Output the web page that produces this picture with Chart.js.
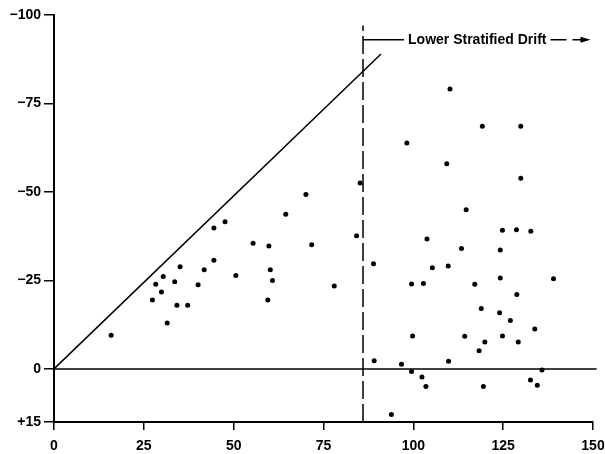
<!DOCTYPE html>
<html>
<head>
<meta charset="utf-8">
<script src="https://cdn.jsdelivr.net/npm/chart.js@4.4.0/dist/chart.umd.min.js"></script>
<style>
  html, body { margin: 0; padding: 0; background: #fff; }
</style>
</head>
<body>
<canvas id="chart" width="605" height="454"></canvas>
<script>
// scatter values
const xValues = [
  15.9, 27.4, 28.3, 29.9, 30.4, 31.5, 33.6, 34.2, 35.1, 37.2,
  40.1, 41.8, 44.5, 44.5, 47.6, 50.6, 55.4, 59.5, 59.8, 60.2,
  60.8, 64.5, 70.1, 71.7, 78.0, 84.2, 85.2, 88.9, 89.1, 93.9,
  96.7, 98.2, 99.5, 99.5, 99.8, 102.4, 102.8, 103.5, 103.8, 105.3,
  109.3, 109.7, 109.8, 110.2, 113.4, 114.3, 114.7, 117.1, 118.3, 118.9,
  119.2, 119.5, 119.9, 124.0, 124.2, 124.2, 124.8, 124.8, 127.0, 128.7,
  128.8, 129.2, 129.9, 129.9, 132.6, 132.7, 133.8, 134.5, 135.8, 139.0
];
const yValues = [
  -9.5, -19.5, -23.9, -21.7, -26.1, -13.0, -24.6, -18.0, -28.9, -18.0,
  -23.8, -28.0, -30.7, -39.8, -41.6, -26.4, -35.5, -19.5, -34.7, -28.0,
  -25.0, -43.7, -49.3, -35.1, -23.4, -37.6, -52.5, -29.7, -2.3, 12.9,
  -1.3, -63.8, -24.0, 0.7, -9.3, 2.3, -24.1, 5.0, -36.7, -28.6,
  -58.0, -29.1, -2.2, -79.1, -34.0, -9.2, -45.0, -23.9, -5.1, -17.1,
  -68.6, 5.0, -7.6, -15.9, -33.6, -25.7, -39.2, -9.3, -13.7, -39.3,
  -21.0, -7.6, -68.6, -53.9, 3.1, -38.9, -11.3, 4.6, 0.3, -25.5
];

const xTicks = [0, 25, 50, 75, 100, 125, 150];
const yTicks = [-100, -75, -50, -25, 0, 15];
const yTickLabels = ['\u2212100', '\u221275', '\u221250', '\u221225', '0', '+15'];

// reference lines
const trendX = [0, 91];
const trendY = [0, -89];
const zeroX = [0, 151];
const driftX = 86;
const driftTop = -97;
const driftLabelY = -93;
const driftLabel = 'Lower Stratified Drift';

const FONT = '"Liberation Sans", Arial, sans-serif';

const points = xValues.map((x, i) => ({ x: x, y: yValues[i] }));

const driftNote = {
  id: 'driftNote',
  afterDatasetsDraw(chart) {
    const { ctx, scales: { x, y } } = chart;
    const px = x.getPixelForValue(driftX);
    const py = y.getPixelForValue(driftLabelY);
    ctx.save();
    ctx.strokeStyle = '#000';
    ctx.fillStyle = '#000';
    ctx.lineWidth = 1.5;
    ctx.font = 'bold 14px ' + FONT;
    ctx.textBaseline = 'middle';
    const tx = px + 45;
    ctx.beginPath();
    ctx.moveTo(px, py);
    ctx.lineTo(tx - 4, py);
    ctx.stroke();
    ctx.fillText(driftLabel, tx, py);
    const end = tx + ctx.measureText(driftLabel).width;
    ctx.beginPath();
    ctx.moveTo(end + 4, py);
    ctx.lineTo(end + 20, py);
    ctx.moveTo(end + 26, py);
    ctx.lineTo(end + 38, py);
    ctx.stroke();
    ctx.beginPath();
    ctx.moveTo(end + 44, py);
    ctx.lineTo(end + 34, py - 3);
    ctx.lineTo(end + 34, py + 3);
    ctx.closePath();
    ctx.fill();
    ctx.restore();
  }
};

new Chart(document.getElementById('chart'), {
  type: 'scatter',
  data: {
    datasets: [
      {
        data: points,
        pointRadius: 2.5,
        pointBackgroundColor: '#000',
        pointBorderWidth: 0
      },
      {
        data: trendX.map((x, i) => ({ x: x, y: trendY[i] })),
        showLine: true,
        pointRadius: 0,
        borderColor: '#000',
        borderWidth: 1.5,
        clip: false
      },
      {
        data: zeroX.map(x => ({ x: x, y: 0 })),
        showLine: true,
        pointRadius: 0,
        borderColor: '#000',
        borderWidth: 1.5,
        clip: false
      },
      {
        data: [{ x: driftX, y: 15 }, { x: driftX, y: driftTop }],
        showLine: true,
        pointRadius: 0,
        borderColor: '#000',
        borderWidth: 1.5,
        borderDash: [18, 5]
      }
    ]
  },
  options: {
    responsive: false,
    animation: false,
    layout: { padding: { top: 15, right: 12, left: 0, bottom: 0 } },
    plugins: {
      legend: { display: false },
      tooltip: { enabled: false }
    },
    scales: {
      x: {
        type: 'linear',
        position: 'bottom',
        min: 0,
        max: 150,
        afterBuildTicks: scale => { scale.ticks = xTicks.map(v => ({ value: v })); },
        afterFit: scale => {
          scale.height = 32;
          scale.paddingLeft = 0;
          scale.paddingRight = 0;
        },
        ticks: { color: '#000', font: { family: FONT, size: 14, weight: 'bold' }, padding: 8, maxRotation: 0 },
        grid: { drawOnChartArea: false, tickLength: 8, color: '#000', lineWidth: 1.5 },
        border: { color: '#000', width: 2 }
      },
      y: {
        type: 'linear',
        reverse: true,
        min: -100,
        max: 15,
        afterBuildTicks: scale => { scale.ticks = yTicks.map(v => ({ value: v })); },
        afterFit: scale => { scale.width = 54; },
        ticks: {
          color: '#000',
          font: { family: FONT, size: 14, weight: 'bold' },
          padding: 3,
          callback: v => yTickLabels[yTicks.indexOf(v)]
        },
        grid: { drawOnChartArea: false, tickLength: 10, color: '#000', lineWidth: 1.5 },
        border: { color: '#000', width: 2 }
      }
    }
  },
  plugins: [driftNote]
});
</script>
</body>
</html>
